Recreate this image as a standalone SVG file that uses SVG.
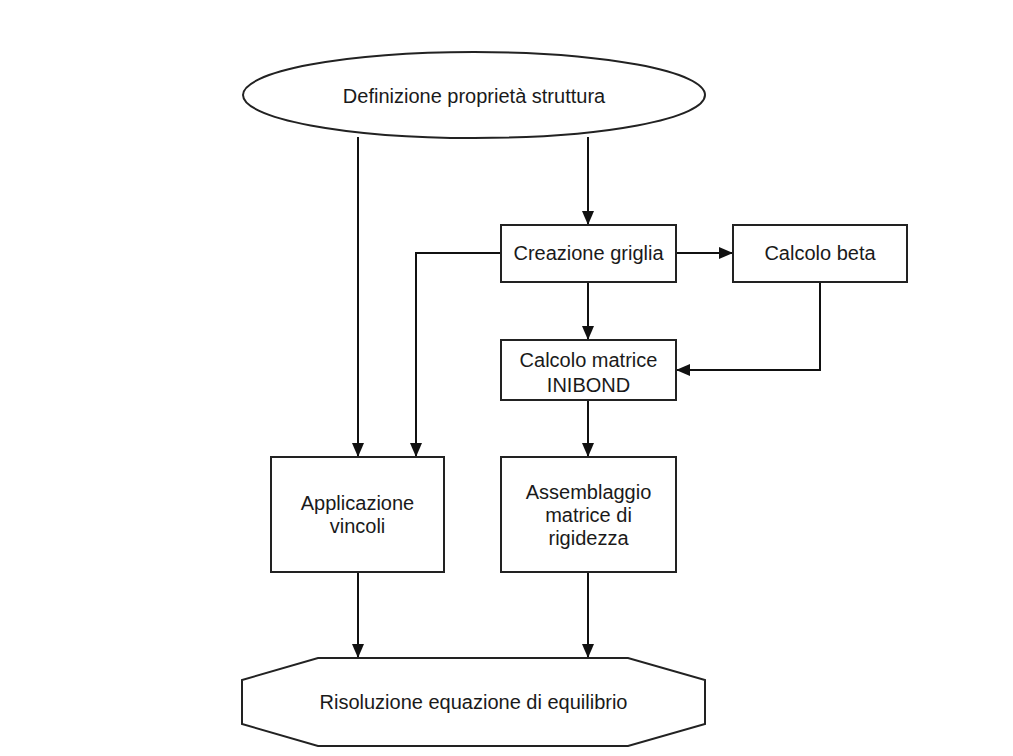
<svg xmlns="http://www.w3.org/2000/svg" width="1013" height="756" viewBox="0 0 1013 756">
<defs>
<marker id="arr" viewBox="0 0 14 12" refX="14" refY="6" markerWidth="14" markerHeight="12" markerUnits="userSpaceOnUse" orient="auto">
<path d="M0,0 L14,6 L0,12 Z" fill="#111"/>
</marker>
<style>
.shape{fill:#fff;stroke:#222;stroke-width:2}
.lbl{font-family:"Liberation Sans",Arial,sans-serif;font-size:20px;fill:#1a1a1a;text-anchor:middle}
.con{fill:none;stroke:#111;stroke-width:2;marker-end:url(#arr)}
</style>
</defs>
<rect width="1013" height="756" fill="#fff"/>
<g id="connectors">
<path class="con" d="M358,137 L358,457"/>
<path class="con" d="M588,137 L588,225"/>
<path class="con" d="M676,253 L733,253"/>
<path class="con" d="M501,253 L416,253 L416,457"/>
<path class="con" d="M588,282 L588,340"/>
<path class="con" d="M820,282 L820,370 L676,370"/>
<path class="con" d="M588,400 L588,457"/>
<path class="con" d="M358,572 L358,658"/>
<path class="con" d="M588,572 L588,658"/>
</g>
<g id="n-definizione">
<ellipse class="shape" cx="474" cy="95" rx="231" ry="43"/>
<text class="lbl" x="474" y="103">Definizione proprietà struttura</text>
</g>
<g id="n-creazione">
<rect class="shape" x="501" y="225" width="175" height="57"/>
<text class="lbl" x="588.5" y="260">Creazione griglia</text>
</g>
<g id="n-beta">
<rect class="shape" x="733" y="225" width="174" height="57"/>
<text class="lbl" x="820" y="260">Calcolo beta</text>
</g>
<g id="n-inibond">
<rect class="shape" x="501" y="340" width="175" height="60"/>
<text class="lbl" x="588.5" y="367">Calcolo matrice</text>
<text class="lbl" x="588.5" y="392">INIBOND</text>
</g>
<g id="n-applicazione">
<rect class="shape" x="271" y="457" width="173" height="115"/>
<text class="lbl" x="357.5" y="510">Applicazione</text>
<text class="lbl" x="357.5" y="533">vincoli</text>
</g>
<g id="n-assemblaggio">
<rect class="shape" x="501" y="457" width="175" height="115"/>
<text class="lbl" x="588.5" y="499">Assemblaggio</text>
<text class="lbl" x="588.5" y="522">matrice di</text>
<text class="lbl" x="588.5" y="545">rigidezza</text>
</g>
<g id="n-risoluzione">
<polygon class="shape" points="318,658 628,658 705,680 705,724 628,746 318,746 242,724 242,680"/>
<text class="lbl" x="473.5" y="709">Risoluzione equazione di equilibrio</text>
</g>
</svg>
